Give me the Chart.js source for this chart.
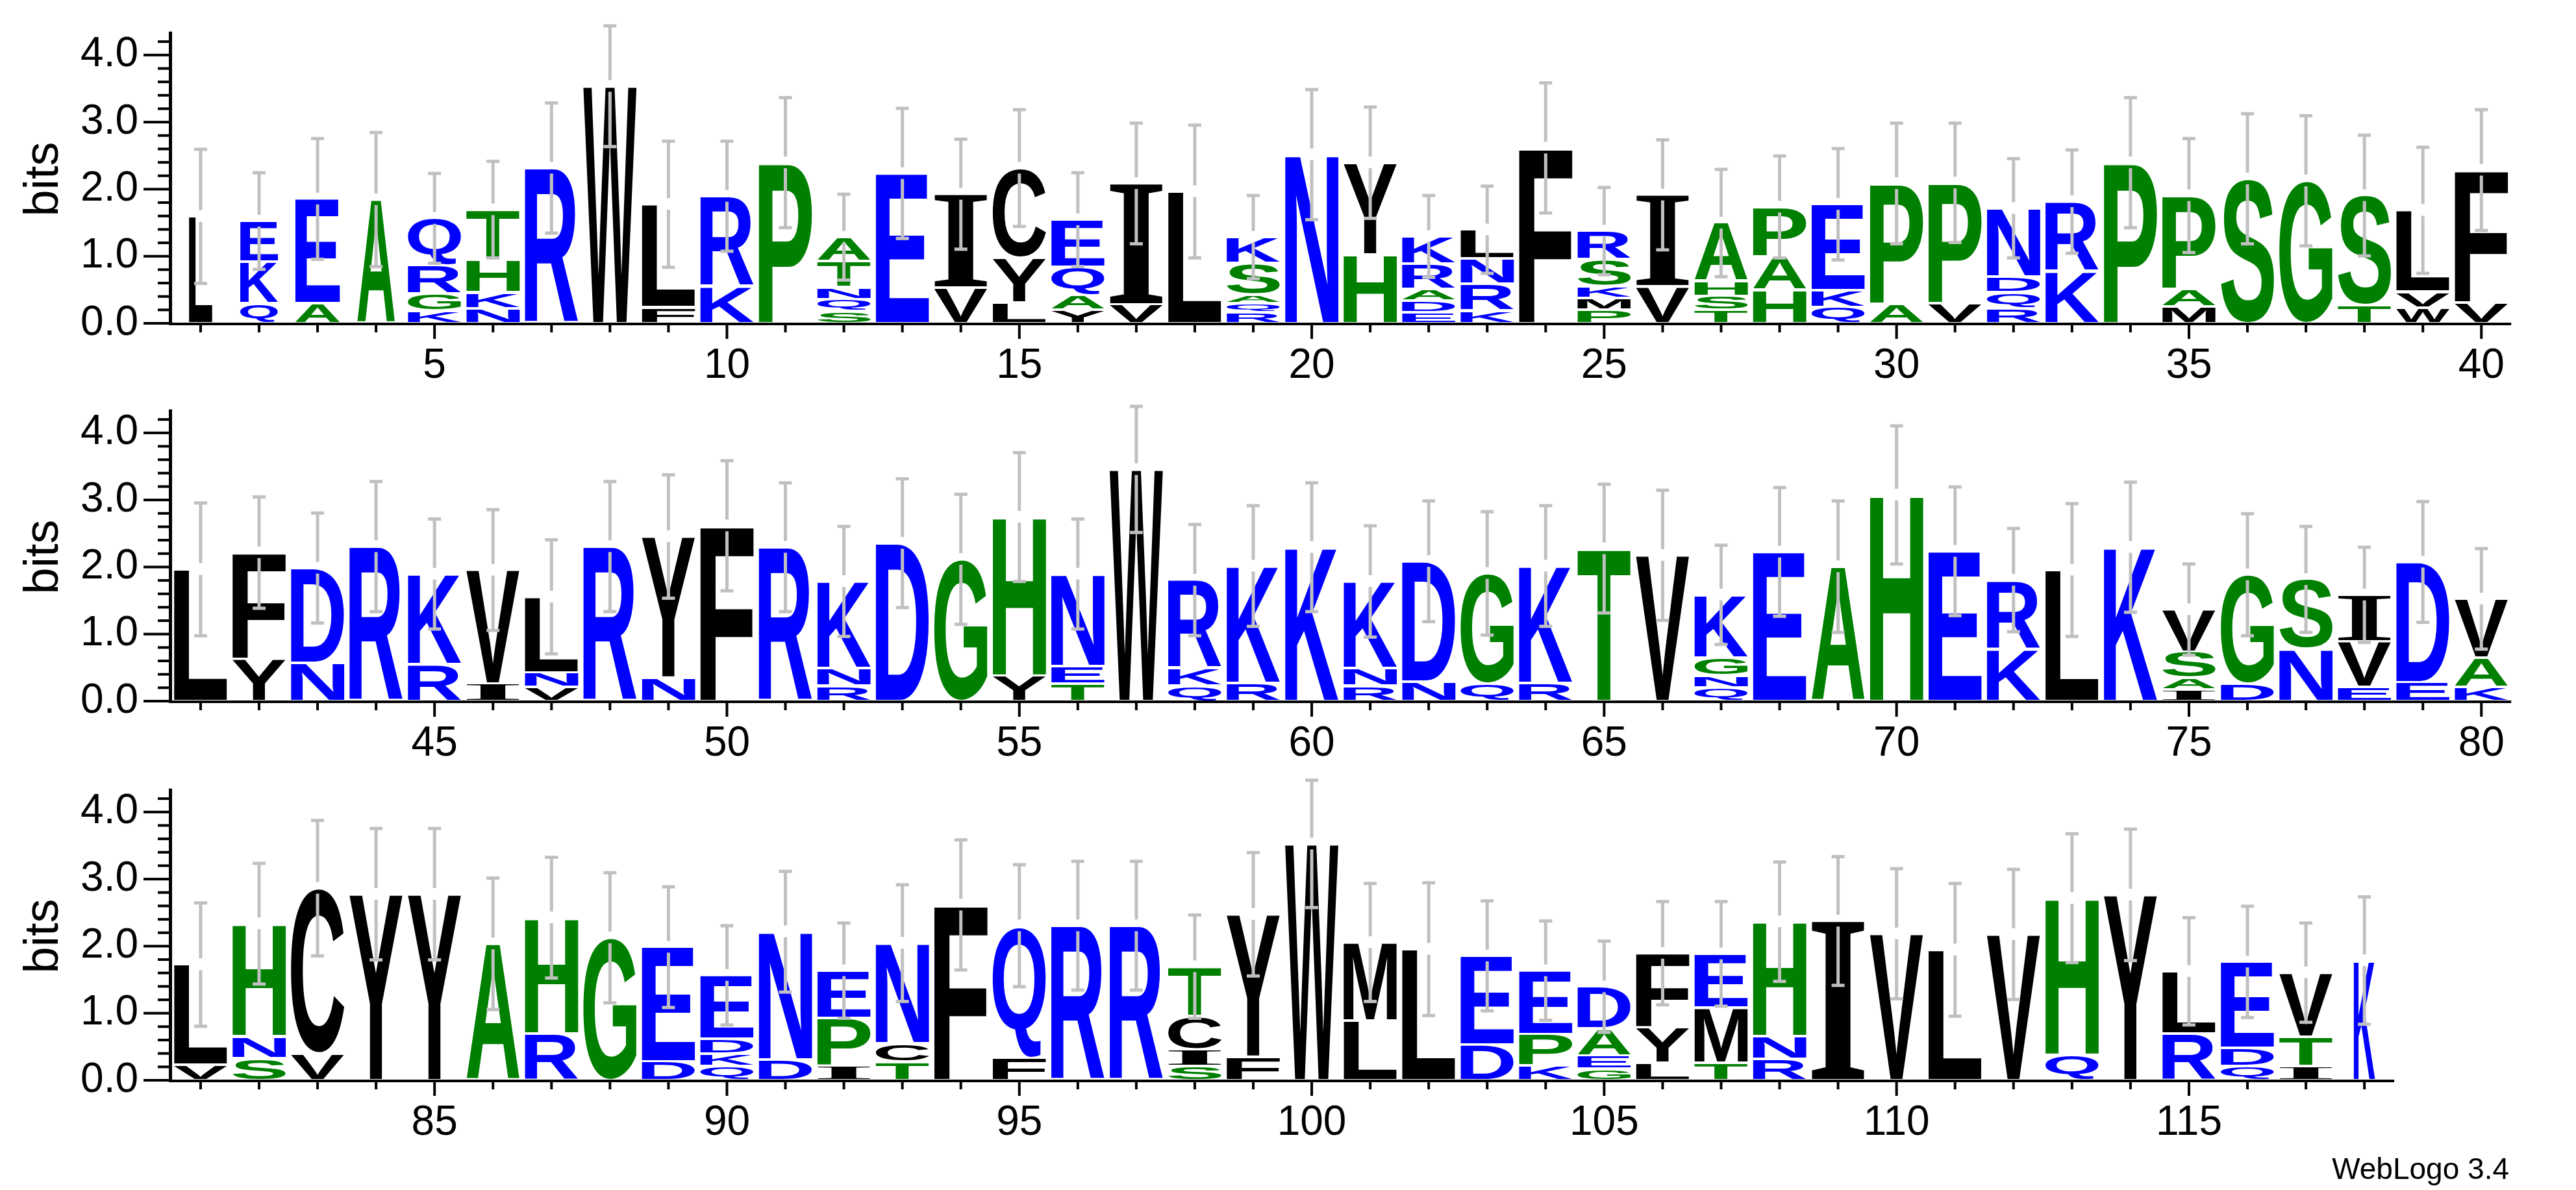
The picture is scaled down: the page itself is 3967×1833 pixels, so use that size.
<!DOCTYPE html>
<html>
<head>
<meta charset="utf-8">
<script src="https://cdn.jsdelivr.net/npm/chart.js@4.4.0/dist/chart.umd.min.js"></script>
<style>
  html, body { margin: 0; padding: 0; background: #fff; }
  body { width: 3967px; height: 1833px; position: relative; overflow: hidden; }
  canvas { position: absolute; left: 0; }
</style>
</head>
<body>
<canvas id="row0"></canvas>
<canvas id="row1"></canvas>
<canvas id="row2"></canvas>
<script>
// letters of each stack, bottom to top (position = index + 1)
const stackLetters = [
  'L','QKE','AE','A','KGRQ','NKHT','R','W','FL','KR',
  'P','SQNTA','E','VI','LYC','YAQE','VI','L','RQASK','N',
  'HY','EDARK','KRNL','F','PMKSR','VI','TSHA','HAP','QKE','AP',
  'VP','RQDN','KR','P','MAP','S','G','TS','WVL','VF',
  'L','YF','ND','R','RK','IV','VNL','R','NY','F',
  'R','RNK','D','G','YH','TEN','W','QKR','RK','K',
  'RNK','ND','QG','RK','T','V','QNGK','E','A','H',
  'E','KR','L','K','IASV','DG','NS','EVI','ED','KAV',
  'VL','SNH','VC','Y','Y','A','RH','G','DE','QKDE',
  'DN','IPE','TCN','F','FQ','R','R','SICT','FY','W',
  'LM','L','DE','KPE','GEAD','LYF','TME','RNH','I','V',
  'L','V','QH','Y','RL','QDE','ITV','K'
];

// height of each letter in bits, same order
const stackBits = [
  [1.60],[0.30,0.62,0.61],[0.30,1.56],[1.85],[0.19,0.25,0.42,0.71],
  [0.22,0.24,0.49,0.75],[2.32],[3.54],[0.24,1.54],[0.55,1.35],
  [2.40],[0.18,0.18,0.18,0.39,0.36],[2.24],[0.53,1.40],[0.31,0.67,1.34],
  [0.20,0.22,0.42,0.71],[0.28,1.81],[1.97],[0.16,0.14,0.13,0.47,0.39],[2.52],
  [1.03,1.37],[0.16,0.18,0.17,0.38,0.41],[0.19,0.40,0.38,0.43],[2.62],[0.20,0.18,0.18,0.40,0.42],
  [0.55,1.37],[0.20,0.21,0.22,0.87],[0.50,0.50,0.74],[0.24,0.25,1.29],[0.29,1.80],
  [0.30,1.80],[0.23,0.23,0.24,1.02],[0.78,1.04],[2.40],[0.25,0.26,1.40],
  [2.16],[2.13],[0.27,1.64],[0.23,0.24,1.22],[0.31,1.98],
  [1.97],[0.63,1.59],[0.57,1.42],[2.31],[0.55,1.35],
  [0.26,1.70],[0.21,0.22,1.13],[2.31],[0.35,2.11],[2.62],
  [2.30],[0.23,0.26,1.30],[2.36],[2.12],[0.38,2.37],
  [0.26,0.26,1.38],[3.46],[0.23,0.26,1.32],[0.27,1.75],[2.30],
  [0.23,0.26,1.30],[0.29,1.80],[0.26,1.65],[0.27,1.75],[2.28],
  [2.18],[0.20,0.18,0.27,0.94],[2.23],[2.01],[3.08],
  [2.24],[0.78,1.03],[1.96],[2.30],[0.17,0.18,0.39,0.63],
  [0.26,1.63],[0.78,1.04],[0.21,0.68,0.70],[0.28,1.80],[0.21,0.44,0.88],
  [0.23,1.50],[0.33,0.33,1.68],[0.40,2.47],[2.78],[2.78],
  [2.04],[0.70,1.73],[2.13],[0.28,1.71],[0.21,0.19,0.22,0.95],
  [0.31,1.91],[0.22,0.71,0.71],[0.28,0.27,1.50],[2.62],[0.34,1.97],
  [2.31],[2.31],[0.21,0.25,0.50,0.74],[0.35,2.13],[3.53],
  [0.89,1.17],[1.96],[0.53,1.33],[0.22,0.47,0.95],[0.17,0.20,0.40,0.63],
  [0.26,0.53,1.11],[0.26,0.82,0.81],[0.32,0.34,1.71],[2.38],[2.19],
  [1.95],[2.18],[0.38,2.34],[2.77],[0.70,0.93],
  [0.21,0.27,1.29],[0.21,0.44,0.96],[1.79]
];

// half-length of the error bar at each position, bits
const errorBits = [
  1.00,0.72,0.90,1.00,0.67,0.72,0.97,0.90,0.94,0.82,
  0.97,0.64,0.97,0.82,0.87,0.70,0.90,0.99,0.62,0.97,
  0.83,0.61,0.65,0.97,0.65,0.82,0.80,0.76,0.83,0.90,
  0.89,0.74,0.77,0.97,0.85,0.97,0.97,0.90,0.94,0.90,
  0.99,0.83,0.82,0.97,0.82,0.90,0.85,0.97,0.92,0.97,
  0.96,0.82,0.96,0.97,0.96,0.82,0.94,0.83,0.90,0.96,
  0.83,0.90,0.92,0.90,0.96,0.97,0.74,0.96,0.98,1.03,
  0.96,0.77,0.99,0.97,0.68,0.91,0.79,0.71,0.90,0.75,
  0.92,0.90,1.01,0.98,0.98,0.98,0.90,0.97,0.90,0.74,
  0.90,0.71,0.87,0.97,0.91,0.96,0.96,0.77,0.92,0.95,
  0.88,0.99,0.82,0.74,0.68,0.77,0.78,0.89,0.96,0.97,
  0.99,0.97,0.96,0.98,0.80,0.83,0.74,0.95
];

// columns drawn narrower (fraction of sequences present)
const colWeight = { 1: 0.44, 2: 0.71, 3: 0.84, 4: 0.71, 118: 0.40 };

const rowRanges = [[1, 40], [41, 80], [81, 118]];
const yTickLabels = ['0.0', '1.0', '2.0', '3.0', '4.0'];
const xLabelEvery = 5;

const hydrophilic = 'RKDENQ';
const neutral = 'SGHTAP';
function letterColor(ch) {
  if (hydrophilic.includes(ch)) return '#0000ff';
  if (neutral.includes(ch)) return '#008000';
  return '#000000';
}

const W = 3967, H = 1833;
const ZERO_Y = [497.5, 1080.4, 1663.6];
const PX_PER_BIT = 103.3;
const Y_MAX = 4.35;
const AXIS_LEFT = 263;
const ZERO_IN_CANVAS = 470;
const AXIS_FONT = '64px "Liberation Sans", Arial, sans-serif';

const glyphCache = {};
function glyphFont(ch) {
  return ch === 'I' ? 'bold 200px "Liberation Serif", serif' : 'bold 200px "Liberation Sans", Arial, sans-serif';
}
function glyphMetrics(ctx, ch) {
  if (glyphCache[ch]) return glyphCache[ch];
  ctx.save();
  ctx.font = glyphFont(ch);
  const m = ctx.measureText(ch);
  ctx.restore();
  glyphCache[ch] = { l: m.actualBoundingBoxLeft, r: m.actualBoundingBoxRight,
                     a: m.actualBoundingBoxAscent, d: m.actualBoundingBoxDescent };
  return glyphCache[ch];
}
function drawGlyph(ctx, ch, x0, y0, w, h, color) {
  if (h <= 0.5) return;
  const g = glyphMetrics(ctx, ch);
  ctx.save();
  ctx.translate(x0, y0);
  ctx.scale(w / (g.l + g.r), h / (g.a + g.d));
  ctx.font = glyphFont(ch);
  ctx.fillStyle = color;
  ctx.textAlign = 'left';
  ctx.textBaseline = 'alphabetic';
  ctx.fillText(ch, g.l, g.a);
  ctx.restore();
}

const logoPlugin = {
  id: 'logo',
  afterDatasetsDraw(chart) {
    const ctx = chart.ctx;
    const xs = chart.scales.x, ys = chart.scales.y;
    const row = chart.options.plugins.logo.row;
    const [p0, p1] = rowRanges[row];

    // letters
    chart.data.datasets.forEach((ds, d) => {
      const meta = chart.getDatasetMeta(d);
      meta.data.forEach((el, i) => {
        const item = ds.data[i];
        const { x, y, base, width } = el.getProps(['x', 'y', 'base', 'width'], true);
        const wgt = colWeight[item.x] || 1;
        const gw = width * wgt;
        const top = Math.min(y, base) + 2, bot = Math.max(y, base) - 2;
        drawGlyph(ctx, item.letter, x - gw / 2, top, gw, bot - top, letterColor(item.letter));
      });
    });

    // error bars
    ctx.save();
    ctx.fillStyle = '#c0c0c0';
    for (let p = p0; p <= p1; p++) {
      const total = stackBits[p - 1].reduce((a, b) => a + b, 0);
      const e = errorBits[p - 1];
      const x = xs.getPixelForValue(p);
      const yt = ys.getPixelForValue(total + e);
      const yb = ys.getPixelForValue(total - e);
      const ym = ys.getPixelForValue(total);
      ctx.fillRect(x - 2.5, yt, 5, (ym - 9) - yt);
      ctx.fillRect(x - 2.5, ym + 9, 5, yb - (ym + 9));
      ctx.fillRect(x - 10, yt - 2, 20, 5);
      ctx.fillRect(x - 10, yb - 2, 20, 5);
    }
    ctx.restore();

    // axes
    const zero = ys.getPixelForValue(0);
    const yTop = ys.getPixelForValue(Y_MAX);
    ctx.save();
    ctx.fillStyle = '#000';
    ctx.fillRect(AXIS_LEFT - 3, yTop, 5, zero - yTop + 3);
    for (let k = 0; k <= 21; k++) {
      const yy = ys.getPixelForValue(k / 5);
      const len = k % 5 === 0 ? 42 : 20;
      ctx.fillRect(AXIS_LEFT - len, yy - 2, len, 4);
    }
    ctx.font = AXIS_FONT;
    ctx.textAlign = 'right';
    ctx.textBaseline = 'middle';
    yTickLabels.forEach(lbl => ctx.fillText(lbl, 213, ys.getPixelForValue(parseFloat(lbl))));

    ctx.fillRect(AXIS_LEFT, zero - 1, chart.chartArea.right - AXIS_LEFT, 4);
    ctx.textAlign = 'center';
    for (let p = p0; p <= p1; p++) {
      const x = xs.getPixelForValue(p);
      const major = p % xLabelEvery === 0;
      ctx.fillRect(x - 2, zero + 3, 4, major ? 21 : 11);
      if (major) ctx.fillText(String(p), x, zero + 66);
    }

    ctx.save();
    ctx.translate(69, zero - 222);
    ctx.rotate(-Math.PI / 2);
    ctx.font = '74px "Liberation Sans", Arial, sans-serif';
    ctx.textAlign = 'center';
    ctx.textBaseline = 'middle';
    ctx.fillText('bits', 0, 0);
    ctx.restore();

    if (row === rowRanges.length - 1) {
      const canvasTop = chart.options.plugins.logo.top;
      ctx.font = '46px "Liberation Sans", Arial, sans-serif';
      ctx.textAlign = 'right';
      ctx.textBaseline = 'alphabetic';
      ctx.fillText('WebLogo 3.4', 3864, 1816 - canvasTop);
    }
    ctx.restore();
  }
};

function buildRow(r) {
  const [p0, p1] = rowRanges[r];
  const canvas = document.getElementById('row' + r);
  const top = Math.round(ZERO_Y[r]) - ZERO_IN_CANVAS;
  const h = r === rowRanges.length - 1 ? H - top : 590;
  canvas.width = W;
  canvas.height = h;
  canvas.style.top = top + 'px';
  canvas.style.width = W + 'px';
  canvas.style.height = h + 'px';

  const xMin = p0 - 0.51, xMax = p1 + 0.51;
  const axisRight = AXIS_LEFT + (xMax - xMin) * 90.06;

  const maxLevels = 5;
  const datasets = [];
  for (let lvl = 0; lvl < maxLevels; lvl++) {
    const data = [];
    for (let p = p0; p <= p1; p++) {
      const letters = stackLetters[p - 1];
      const bits = stackBits[p - 1];
      if (lvl < letters.length) {
        let lo = 0;
        for (let k = 0; k < lvl; k++) lo += bits[k];
        data.push({ x: p, y: [lo, lo + bits[lvl]], letter: letters[lvl] });
      }
    }
    datasets.push({
      label: 'level ' + lvl,
      data,
      backgroundColor: 'rgba(0,0,0,0)',
      borderWidth: 0,
      barThickness: 82,
      grouped: false
    });
  }

  new Chart(canvas, {
    type: 'bar',
    data: { datasets },
    options: {
      responsive: false,
      maintainAspectRatio: false,
      animation: false,
      devicePixelRatio: 1,
      layout: {
        padding: {
          left: AXIS_LEFT,
          right: W - axisRight,
          top: ZERO_IN_CANVAS - Y_MAX * PX_PER_BIT,
          bottom: h - ZERO_IN_CANVAS
        }
      },
      scales: {
        x: { type: 'linear', min: xMin, max: xMax, offset: false, display: false },
        y: { type: 'linear', min: 0, max: Y_MAX, display: false }
      },
      plugins: {
        legend: { display: false },
        tooltip: { enabled: false },
        logo: { row: r, top: top }
      }
    },
    plugins: [logoPlugin]
  });
}

rowRanges.forEach((_, r) => buildRow(r));
</script>
</body>
</html>
